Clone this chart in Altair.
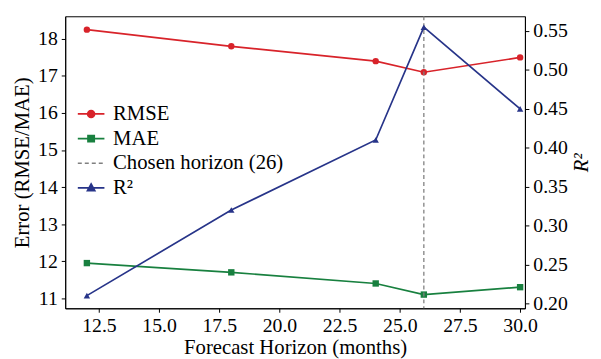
import altair as alt
import pandas as pd

horizons = [12, 18, 24, 26, 30]
rmse = [18.25, 17.8, 17.4, 17.1, 17.5]
mae = [11.95, 11.7, 11.4, 11.1, 11.3]
r2 = [0.21, 0.32, 0.41, 0.555, 0.45]
chosen = 26
legend_names = ["RMSE", "MAE", "Chosen horizon (26)", "R²"]
colors = ["#d8232a", "#18803f", "#808080", "#273489"]
x_ticks = [12.5, 15.0, 17.5, 20.0, 22.5, 25.0, 27.5, 30.0]
left_ticks = [11, 12, 13, 14, 15, 16, 17, 18]
right_ticks = [0.20, 0.25, 0.30, 0.35, 0.40, 0.45, 0.50, 0.55]

FONT = "Times New Roman, Liberation Serif, serif"
AX = dict(labelFont=FONT, titleFont=FONT, labelFontSize=20, titleFontSize=21,
          titleFontWeight="normal", labelColor="black", titleColor="black",
          domainColor="black", tickColor="black", tickSize=4, labelPadding=4,
          grid=False)

legend_paths = [
    "M-2,0H2M0.52,0A0.52,0.52 0 1 1 -0.52,0A0.52,0.52 0 1 1 0.52,0Z",
    "M-2,0H2M-0.47,-0.47H0.47V0.47H-0.47Z",
    "M-2,0H-1.4M-0.95,0H-0.35M0.1,0H0.7M1.15,0H1.75",
    "M-2,0H2M0,-0.6L0.55,0.4L-0.55,0.4Z",
]

x_enc = alt.X(
    "h:Q",
    scale=alt.Scale(domain=[11.1, 30.2], nice=False, zero=False),
    axis=alt.Axis(values=x_ticks, format=".1f", title="Forecast Horizon (months)",
                  titlePadding=1, **AX),
)

left_scale = alt.Scale(domain=[10.73, 18.61], nice=False, zero=False)
right_scale = alt.Scale(domain=[0.1937, 0.569], nice=False, zero=False)

left_axis = alt.Axis(values=left_ticks, format="d", title="Error (RMSE/MAE)", orient="left",
                     titlePadding=5, **AX)
right_axis = alt.Axis(values=right_ticks, format=".2f", title="R²", orient="right",
                      titleAngle=270, titleFontStyle="italic", titleBaseline="alphabetic",
                      titlePadding=20, **AX)

def series_layers(name, vals, color, shape, y_axis, y_scale):
    df = pd.DataFrame({"h": horizons, "v": vals, "s": name})
    base = alt.Chart(df).encode(
        x=x_enc, y=alt.Y("v:Q", scale=y_scale, axis=y_axis)
    )
    line = base.mark_line(color=color, strokeWidth=1.7)
    pts = base.mark_point(color=color, filled=True, opacity=1, shape=shape, size=42)
    return [line, pts]

rmse_l = series_layers("RMSE", rmse, colors[0], "circle", left_axis, left_scale)
mae_l = series_layers("MAE", mae, colors[1], "square", left_axis, left_scale)

vline = alt.Chart(pd.DataFrame({"h": [chosen]})).mark_rule(
    color=colors[2], strokeDash=[4, 3], strokeWidth=1.3
).encode(x=alt.X("h:Q"))

legend_df = pd.DataFrame({"s": legend_names})
legend_layer = alt.Chart(legend_df).mark_point(filled=True, opacity=1).encode(
    fill=alt.Fill("s:N", scale=alt.Scale(domain=legend_names, range=colors),
                  legend=alt.Legend(title=None)),
    stroke=alt.Stroke("s:N", scale=alt.Scale(domain=legend_names, range=colors),
                      legend=alt.Legend(title=None)),
    shape=alt.Shape("s:N", scale=alt.Scale(domain=legend_names, range=legend_paths),
                    legend=alt.Legend(title=None)),
).transform_filter("false")

left = alt.layer(*rmse_l, *mae_l, vline, legend_layer)
right = alt.layer(*series_layers("R²", r2, colors[3], "triangle-up", right_axis, right_scale))

chart = alt.layer(left, right).resolve_scale(y="independent").properties(
    width=466, height=296,
    autosize=alt.AutoSizeParams(type="none"),
    padding={"left": 58, "top": 6, "right": 69, "bottom": 49},
).configure_view(
    stroke="black", strokeWidth=1
).configure_axis(
    labelFont=FONT, titleFont=FONT,
).configure_legend(
    orient="none", legendX=15.75, legendY=88.5, labelFont=FONT, labelFontSize=21,
    labelColor="black", symbolSize=182, symbolStrokeWidth=1.7, labelOffset=11.75,
    rowPadding=3, symbolOpacity=1, labelLimit=400,
)

chart.save("out.html", embed_options={"renderer": "svg", "actions": False})
